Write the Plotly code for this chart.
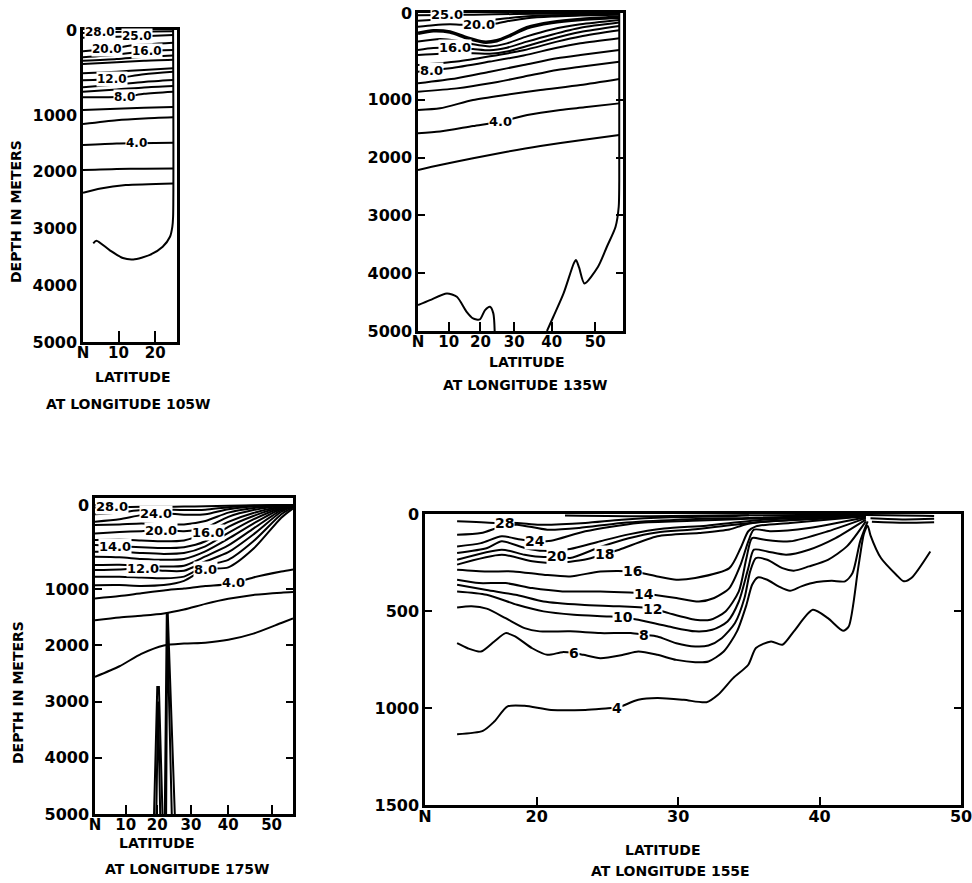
import numpy as np
import plotly.graph_objects as go

# ======================= DATA (latitude deg N, depth m) =======================
# ---- Section at longitude 105W ----
p1_iso_28 = [(0, 35), (4.8, 27), (12, 20), (24.7, 15)]
p1_iso_25 = [(0, 90), (9.5, 80), (15.2, 75), (24.7, 60)]
p1_iso_20 = [(0, 250), (6.7, 227), (14, 180), (24.7, 150)]
p1_iso_16 = [(0, 320), (9.5, 290), (17.7, 247), (24.7, 235)]
p1_iso_15 = [(0, 360), (9.5, 340), (17, 315), (24.7, 300)]
p1_iso_14 = [(0, 400), (9.5, 380), (17, 362), (24.7, 350)]
p1_iso_13 = [(0, 509), (9.5, 490), (17, 470), (24.7, 450)]
p1_iso_12 = [(0, 590), (8.1, 576), (17, 520), (24.7, 490)]
p1_iso_11 = [(0, 674), (9.5, 640), (17, 610), (24.7, 588)]
p1_iso_10 = [(0, 725), (9.5, 700), (17, 675), (24.7, 658)]
p1_iso_8 = [(0, 790), (11.8, 785), (17, 750), (24.7, 725)]
p1_iso_6 = [(0, 941), (9.5, 925), (17, 915), (24.7, 905)]
p1_iso_5 = [(0, 1158), (9.5, 1090), (17, 1060), (24.7, 1040)]
p1_iso_4 = [(0, 1528), (9.5, 1500), (15, 1495), (24.7, 1487)]
p1_iso_3 = [(0, 1969), (9.5, 1950), (17, 1945), (24.7, 1940)]
p1_iso_2 = [(0, 2370), (5, 2293), (12, 2234), (24.7, 2204)]
p1_bottom = [(2.9, 3260), (3.8, 3215), (7.5, 3380), (11.2, 3520), (14.1, 3544), (18.6, 3465),
             (22, 3320), (23.9, 3145), (24.5, 2970), (24.7, 2793), (24.7, 0)]
p1_labels = [("28.0", 4.8, 27), ("25.0", 15.2, 75), ("20.0", 6.7, 227), ("16.0", 17.7, 247),
             ("12.0", 8.1, 576), ("8.0", 11.8, 785), ("4.0", 15.0, 1495)]

# ---- Section at longitude 135W ----
p2_iso_25 = [(0, 25), (9.3, 23), (18, 20), (30, 12), (45, 8), (54.8, 6)]
p2_iso_22 = [(0, 90), (8, 75), (15, 80), (22, 85), (28, 60), (35, 35), (45, 20), (54.8, 12)]
p2_iso_20 = [(0, 160), (5, 140), (10.4, 130), (14, 135), (19.4, 132), (24.9, 120), (28.8, 90),
             (33.5, 60), (40, 40), (46.8, 30), (54.8, 20)]
p2_iso_18 = [(0, 234), (5, 205), (10.4, 220), (15.7, 285), (20.9, 335), (24.9, 320), (28.8, 260),
             (33.5, 170), (40, 110), (46.8, 75), (54.8, 50)]
p2_iso_17 = [(0, 330), (7.2, 300), (12.6, 320), (17.7, 360), (22.9, 385), (27.9, 350), (33.5, 270),
             (40, 190), (46.8, 130), (54.8, 80)]
p2_iso_16 = [(0, 427), (5, 405), (12, 400), (17.7, 415), (22.9, 430), (27.9, 400), (33.5, 330),
             (40, 250), (46.8, 170), (54.8, 110)]
p2_iso_14 = [(0, 484), (7.2, 470), (17.7, 465), (22.9, 470), (27.9, 445), (33.5, 380), (40, 300),
             (46.8, 220), (54.8, 150)]
p2_iso_12 = [(0, 600), (12.6, 560), (22.9, 500), (32.6, 430), (41.3, 330), (46.8, 270), (54.8, 200)]
p2_iso_8 = [(0, 677), (10.4, 638), (22.9, 560), (32.6, 490), (41.3, 400), (46.8, 350), (54.8, 292)]
p2_iso_7 = [(0, 811), (12.6, 753), (22.9, 677), (32.6, 600), (41.3, 522), (46.8, 484), (54.8, 427)]
p2_iso_6 = [(0, 907), (12.6, 869), (22.9, 811), (32.6, 735), (41.3, 657), (46.8, 619), (54.8, 561)]
p2_iso_5 = [(0, 1178), (7.2, 1149), (17.7, 1005), (27.9, 942), (37.1, 888), (46.8, 830), (54.8, 760)]
p2_iso_4 = [(0, 1581), (7.2, 1551), (17.7, 1455), (25.9, 1380), (33.6, 1265), (42.1, 1178),
            (47.7, 1132), (54.8, 1063)]
p2_iso_2 = [(0, 2216), (7.2, 2130), (17.7, 2014), (27.9, 1900), (37.1, 1800), (46.8, 1700), (54.8, 1611)]
p2_bottom_a = [(0, 4552), (3.9, 4465), (9.4, 4350), (12.6, 4408), (15.7, 4668), (17.7, 4783),
               (19.8, 4800), (21.4, 4638), (22.9, 4580), (23.9, 4695), (24.3, 5000)]
p2_bottom_b = [(38.8, 5000), (40.4, 4754), (42.9, 4350), (45.3, 3831), (45.8, 3773), (46.5, 3900),
               (47.7, 4177), (50.6, 3888), (52.4, 3543), (54.1, 3196), (54.7, 2851), (54.8, 2400), (54.8, 0)]
p2_labels = [("25.0", 9.3, 23), ("20.0", 19.4, 132), ("16.0", 12.0, 400), ("8.0", 4.5, 660),
             ("4.0", 25.9, 1380)]

# ---- Section at longitude 175W (depths at the latitudes in p3_lat) ----
p3_lat = [0, 8, 15, 22, 28, 34, 40, 46, 52, 54.3]
p3_iso_28 = [30, 25, 20, 20, 18, 15, 8, 3, 0, 0]
p3_iso_26 = [110, 90, 60, 55, 60, 55, 25, 8, 0, 0]
p3_iso_24 = [198, 170, 120, 99, 115, 110, 50, 18, 2, 0]
p3_iso_22 = [237, 230, 220, 230, 230, 190, 90, 35, 5, 0]
p3_iso_20 = [337, 320, 310, 297, 310, 270, 140, 60, 10, 2]
p3_iso_16 = [416, 410, 420, 430, 420, 337, 200, 95, 18, 4]
p3_iso_14 = [475, 490, 500, 510, 500, 430, 260, 130, 25, 6]
p3_iso_13 = [555, 555, 570, 580, 570, 490, 330, 170, 35, 8]
p3_iso_125 = [614, 620, 640, 650, 640, 550, 400, 220, 45, 10]
p3_iso_12b = [713, 710, 720, 730, 720, 610, 480, 280, 60, 14]
p3_iso_12 = [772, 765, 752, 780, 780, 670, 560, 350, 80, 18]
p3_iso_10 = [852, 850, 860, 870, 850, 720, 650, 430, 110, 25]
p3_iso_8 = [951, 950, 960, 950, 900, 760, 740, 520, 150, 40]
p3_iso_4 = [1163, 1120, 1070, 1020, 990, 960, 940, 860, 790, 765]
p3_iso_3 = [1550, 1500, 1470, 1430, 1360, 1260, 1170, 1100, 1060, 1050]
p3_iso_2 = [2560, 2370, 2150, 2000, 1966, 1950, 1900, 1790, 1600, 1520]
p3_ridge_a = [(19.0, 5000), (20.0, 2740), (20.5, 2740), (21.6, 5000)]
p3_ridge_a_in = [(19.7, 5000), (20.25, 3000), (20.9, 5000)]
p3_ridge_b = [(22.3, 5000), (22.9, 1430), (23.2, 1430), (25.3, 5000)]
p3_ridge_b_in = [(22.7, 5000), (23.05, 1650), (24.4, 5000)]
p3_labels = [("28.0", 5.5, 22), ("24.0", 19.7, 99), ("20.0", 21.2, 297), ("16.0", 34.8, 330),
             ("14.0", 6.5, 492), ("12.0", 15.6, 752), ("8.0", 33.9, 760), ("4.0", 41.2, 925)]

# ---- Section at longitude 155E ----
p4_iso_28 = [(14.37, 38), (17, 46), (18.61, 46), (20.21, 55), (23.43, 46), (26, 29), (29.5, 17),
             (33.5, 12), (35, 7)]
p4_iso_26 = [(14.37, 107), (16.06, 98), (17.53, 64), (18.61, 55), (20.75, 81), (23, 72), (26, 46),
             (30, 29), (35, 20), (43, 6)]
p4_iso_24 = [(14.37, 167), (16.06, 150), (17.53, 115), (18.87, 132), (19.9, 141), (21.02, 138),
             (23.43, 89), (27.18, 46), (31, 35), (35, 25), (43, 8)]
p4_iso_22 = [(14.37, 201), (16.5, 175), (17.53, 141), (19.14, 175), (20.5, 190), (22.36, 180),
             (24.5, 140), (26.5, 105), (29, 75), (32, 60), (36, 30), (43, 9)]
p4_iso_20 = [(14.37, 236), (17.53, 184), (19.14, 210), (20.48, 222), (21.4, 218), (22.36, 227),
             (24.5, 170), (26.5, 125), (28.5, 95), (31, 80), (34, 55), (37, 35), (43, 10)]
p4_iso_18 = [(14.37, 261), (17.53, 210), (19.68, 244), (21.29, 253), (23.43, 235), (24.8, 206),
             (25.84, 184), (28.53, 115), (31.47, 98), (33.62, 80), (34.69, 55), (36, 40), (40, 25),
             (43.27, 11)]
p4_iso_16 = [(14.37, 287), (16.46, 296), (18.34, 296), (20.48, 313), (22.36, 322), (24.5, 296),
             (26.8, 296), (28.53, 322), (29.87, 339), (31.21, 330), (33.62, 279), (34.42, 175),
             (34.96, 89), (35.5, 64), (37.91, 46), (43.27, 12)]
p4_iso_14 = [(14.37, 339), (15.92, 356), (17.8, 356), (19.68, 382), (21.82, 399), (24.5, 399),
             (26.6, 405), (27.6, 410), (28.26, 416), (29.87, 433), (31.47, 451), (32.55, 433),
             (33.62, 382), (34.42, 261), (34.96, 141), (35.36, 81), (36.57, 89), (39.25, 72), (43.27, 17)]
p4_iso_12 = [(14.37, 365), (16.46, 392), (18.61, 418), (20.48, 451), (23.16, 468), (25.84, 476),
             (28.2, 488), (29.33, 511), (31.21, 545), (32.28, 545), (33.35, 502), (34.29, 399),
             (34.83, 227), (35.23, 124), (36.03, 132), (37.91, 141), (40.59, 89), (43.27, 21)]
p4_iso_10 = [(14.37, 399), (16.46, 416), (18.61, 468), (20.48, 502), (22.63, 519), (25.04, 528),
             (26.1, 533), (27.18, 545), (29.33, 580), (31.21, 605), (32.41, 597), (33.49, 554),
             (34.29, 451), (34.96, 279), (35.36, 184), (36.3, 193), (37.64, 210), (39.25, 184),
             (41.13, 124), (43.27, 29)]
p4_iso_8 = [(14.37, 482), (15.39, 476), (16.46, 488), (17.8, 537), (19.14, 588), (20.21, 605),
            (22.36, 605), (24.5, 614), (26.65, 614), (27.6, 623), (28.53, 631), (29.87, 666),
            (31.21, 683), (32.14, 678), (33.08, 640), (34.02, 562), (34.69, 433), (35.09, 296),
            (35.5, 227), (36.3, 236), (37.37, 279), (38.18, 292), (39.25, 270), (40.59, 236),
            (41.93, 167), (43.27, 38)]
p4_iso_6 = [(14.37, 666), (15.12, 692), (16.06, 709), (17.0, 657), (17.8, 614), (18.47, 631),
            (19.68, 692), (20.75, 726), (21.82, 712), (22.63, 717), (23.3, 726), (24.5, 743),
            (26.11, 726), (27.18, 709), (28.53, 726), (29.87, 752), (31.21, 764), (32.14, 760),
            (33.22, 709), (34.16, 605), (34.83, 468), (35.23, 365), (35.63, 327), (36.3, 339),
            (37.1, 373), (37.91, 396), (38.71, 373), (39.79, 351), (40.86, 344), (41.8, 347),
            (42.33, 304), (42.87, 141), (43.4, 38)]
p4_iso_4 = [(14.37, 1135), (16.19, 1118), (17.0, 1070), (17.94, 992), (19.14, 989), (21.02, 1010),
            (23.43, 1010), (25.04, 1001), (25.7, 998), (27.18, 958), (28.53, 949), (30.4, 958),
            (32.01, 970), (32.82, 932), (33.89, 846), (34.96, 777), (35.5, 691), (36.57, 657),
            (37.37, 674), (38.18, 605), (39.52, 494), (40.59, 537), (41.66, 602), (42.06, 580),
            (42.73, 279), (43.14, 100), (43.4, 60), (43.6, 110), (44.34, 227), (45.42, 313),
            (45.95, 347), (46.49, 330), (47.83, 193)]
p4_surf_a = [(22, 8), (28, 12), (34, 7), (43.3, 5), (48.1, 10)]
p4_surf_b = [(43.6, 22), (46, 28), (48.1, 25)]
p4_surf_c = [(43.7, 40), (46, 45), (48.1, 42)]
p4_labels = [("28", 17.7, 46), ("24", 19.9, 141), ("20", 21.4, 218), ("18", 24.8, 206),
             ("16", 26.8, 296), ("14", 27.6, 410), ("12", 28.2, 488), ("10", 26.1, 533),
             ("8", 27.6, 623), ("6", 22.6, 717), ("4", 25.7, 998)]

# ---- axes ----
deep_ticks = [0, 1000, 2000, 3000, 4000, 5000]
shallow_ticks = [0, 500, 1000, 1500]
lat_ticks_a = [0, 10, 20]
lat_ticks_bc = [0, 10, 20, 30, 40, 50]
lat_ticks_d = [12.1, 20, 30, 40, 50]
lat_edge = {1: 25.7, 2: 55.5, 3: 54.3}


# ======================= helpers =======================
def merc(lat):
    return np.log(np.tan(np.pi / 4 + np.radians(np.asarray(lat, float)) / 2))


def dscale(d):
    d = np.asarray(d, float)
    return np.where(d <= 1000, 1.5 * d, d + 500.0)


def tx(lat, ax):
    return np.asarray(lat, float) if ax == 4 else merc(lat)


def ty(dep, ax):
    return np.asarray(dep, float) if ax == 4 else dscale(dep)


fig = go.Figure()
BOLD = dict(family="DejaVu Sans, Liberation Sans, sans-serif", color="black", weight="bold")


def add_line(pts, ax, width=2.0, smooth=True):
    lat = [p[0] for p in pts]
    dep = [p[1] for p in pts]
    sfx = "" if ax == 1 else str(ax)
    fig.add_trace(go.Scatter(
        x=tx(lat, ax), y=ty(dep, ax), mode="lines",
        line=dict(color="black", width=width, shape="spline" if smooth else "linear", smoothing=0.7),
        xaxis="x" + sfx, yaxis="y" + sfx, hoverinfo="skip", showlegend=False))


def add_labels(labels, ax, size):
    sfx = "" if ax == 1 else str(ax)
    for text, lat, dep in labels:
        fig.add_annotation(x=float(tx([lat], ax)[0]), y=float(ty([dep], ax)[0]),
                           xref="x" + sfx, yref="y" + sfx, text=text, showarrow=False,
                           xanchor="center", yanchor="middle",
                           bgcolor="white", borderpad=0, font=dict(size=size, **BOLD))


for ln in [p1_iso_28, p1_iso_25, p1_iso_20, p1_iso_16, p1_iso_15, p1_iso_14, p1_iso_13, p1_iso_12,
           p1_iso_11, p1_iso_10, p1_iso_8, p1_iso_6, p1_iso_5, p1_iso_4, p1_iso_3, p1_iso_2, p1_bottom]:
    add_line(ln, 1)
add_labels(p1_labels, 1, 12)

for ln in [p2_iso_25, p2_iso_22, p2_iso_20, p2_iso_17, p2_iso_16, p2_iso_14, p2_iso_12, p2_iso_8,
           p2_iso_7, p2_iso_6, p2_iso_5, p2_iso_4, p2_iso_2, p2_bottom_a, p2_bottom_b]:
    add_line(ln, 2)
add_line(p2_iso_18, 2, width=3.5)
add_labels(p2_labels, 2, 13)

for deps in [p3_iso_28, p3_iso_26, p3_iso_24, p3_iso_22, p3_iso_20, p3_iso_16, p3_iso_14, p3_iso_13,
             p3_iso_125, p3_iso_12b, p3_iso_12, p3_iso_10, p3_iso_8, p3_iso_4, p3_iso_3, p3_iso_2]:
    add_line(list(zip(p3_lat, deps)), 3)
for ln in [p3_ridge_a, p3_ridge_a_in, p3_ridge_b, p3_ridge_b_in]:
    add_line(ln, 3, smooth=False)
add_labels(p3_labels, 3, 13)

for ln in [p4_iso_28, p4_iso_26, p4_iso_24, p4_iso_22, p4_iso_20, p4_iso_18, p4_iso_16, p4_iso_14,
           p4_iso_12, p4_iso_10, p4_iso_8, p4_iso_6, p4_iso_4, p4_surf_a, p4_surf_b, p4_surf_c]:
    add_line(ln, 4)
add_labels(p4_labels, 4, 14)

# ======================= layout =======================
W, H = 972, 883


def dx(a, b):
    return [a / W, b / W]


def dy(top, bot):
    return [1 - bot / H, 1 - top / H]


TICKFONT = dict(size=16, **BOLD)
base = dict(showline=True, linecolor="black", linewidth=2.5, mirror=True, showgrid=False,
            zeroline=False, tickfont=TICKFONT, tickcolor="black", tickwidth=2, automargin=False)


def xax(dom, rng, vals, texts, anchor, merc_scale=True, ticklen=9, size=15):
    return dict(base, domain=dom, range=rng, tickmode="array",
                tickvals=list(merc(vals)) if merc_scale else vals, ticktext=texts,
                ticks="inside", ticklen=ticklen, anchor=anchor, ticklabeloverflow="allow",
                ticklabelstandoff=-5, tickfont=dict(size=size, **BOLD))


def yax(dom, rng, vals, anchor, deep=True, ticks="inside", mirror="ticks"):
    return dict(base, domain=dom, range=rng, tickmode="array",
                tickvals=list(dscale(vals)) if deep else vals,
                ticktext=[str(v) for v in vals], ticks=ticks, ticklen=7, anchor=anchor,
                mirror=mirror, ticklabeloverflow="allow")


def lat_text(vals):
    return ["N" if (v == 0 or v == 12.1) else str(int(v)) for v in vals]


fig.update_layout(
    width=W, height=H, margin=dict(l=0, r=0, t=0, b=0, autoexpand=False),
    paper_bgcolor="white", plot_bgcolor="white", showlegend=False,
    xaxis=xax(dx(83, 177), [0, float(merc(lat_edge[1]))], lat_ticks_a, lat_text(lat_ticks_a), "y", ticklen=11),
    yaxis=yax(dy(30, 342), [5500, 0], deep_ticks, "x", ticks="", mirror=True),
    xaxis2=xax(dx(418, 623), [0, float(merc(lat_edge[2]))], lat_ticks_bc, lat_text(lat_ticks_bc), "y2"),
    yaxis2=yax(dy(13, 331), [5500, 0], deep_ticks, "x2"),
    xaxis3=xax(dx(95, 293), [0, float(merc(lat_edge[3]))], lat_ticks_bc, lat_text(lat_ticks_bc), "y3"),
    yaxis3=yax(dy(498, 814), [5500, -125], deep_ticks, "x3"),
    xaxis4=xax(dx(425, 961), [12.1, 50], lat_ticks_d, lat_text(lat_ticks_d), "y4", merc_scale=False,
               ticklen=8, size=16),
    yaxis4=yax(dy(514, 805), [1500, 0], shallow_ticks, "x4", deep=False),
)

titles = [
    ("DEPTH IN METERS", 16, 212, -90), ("DEPTH IN METERS", 18, 693, -90),
    ("LATITUDE", 133, 377, 0), ("AT LONGITUDE 105W", 128, 404, 0),
    ("LATITUDE", 527, 362, 0), ("AT LONGITUDE 135W", 525, 385, 0),
    ("LATITUDE", 157, 843, 0), ("AT LONGITUDE 175W", 187, 869, 0),
    ("LATITUDE", 663, 850, 0), ("AT LONGITUDE 155E", 670, 871, 0),
]
for text, px, py, ang in titles:
    fig.add_annotation(x=px / W, y=1 - py / H, xref="paper", yref="paper", text=text,
                       showarrow=False, textangle=ang, xanchor="center", yanchor="middle",
                       font=dict(size=14, **BOLD))

fig.write_html("out.html")
